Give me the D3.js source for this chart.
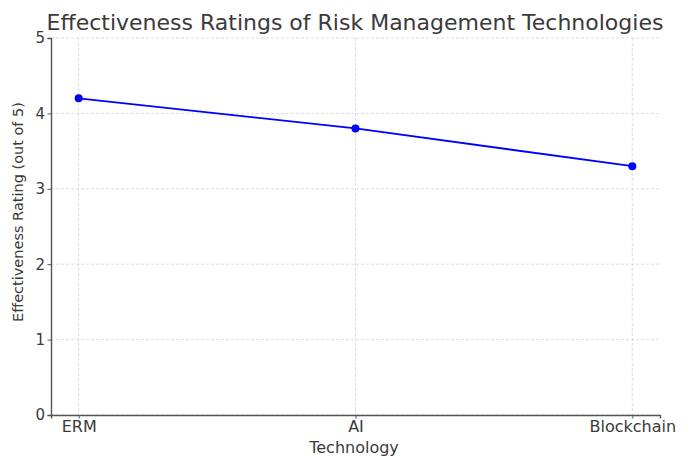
<!DOCTYPE html>
<html>
<head>
<meta charset="utf-8">
<script src="https://cdn.jsdelivr.net/npm/d3@7"></script>
<style>
  body { margin: 0; background: #fff; }
  svg { display: block; font-family: "DejaVu Sans", sans-serif; }
</style>
</head>
<body>
<div id="chart"></div>
<script>
// data
const technologies = ["ERM", "AI", "Blockchain"];
const ratings = [4.2, 3.8, 3.3];
const yTicks = [0, 1, 2, 3, 4, 5];

const width = 697, height = 457;
const margin = { top: 38, right: 37, bottom: 42, left: 51 };

const svg = d3.select("#chart").append("svg")
    .attr("width", width)
    .attr("height", height);

const plotW = width - margin.left - margin.right;
const plotH = height - margin.top - margin.bottom;

// matplotlib-like 5% padding on the category axis
const x = d3.scaleLinear()
    .domain([-0.1, technologies.length - 1 + 0.1])
    .range([margin.left, margin.left + plotW]);

const y = d3.scaleLinear()
    .domain([0, 5])
    .range([margin.top + plotH, margin.top]);

// grid
const grid = svg.append("g")
    .attr("stroke", "#d4d4d4")
    .attr("stroke-width", 0.8)
    .attr("stroke-dasharray", "3,2");
grid.selectAll("line.h")
    .data(yTicks)
    .enter().append("line")
    .attr("x1", margin.left).attr("x2", margin.left + plotW)
    .attr("y1", d => y(d)).attr("y2", d => y(d));
grid.selectAll("line.v")
    .data(technologies)
    .enter().append("line")
    .attr("x1", (d, i) => x(i)).attr("x2", (d, i) => x(i))
    .attr("y1", margin.top).attr("y2", margin.top + plotH);

// axes
const xAxis = d3.axisBottom(x)
    .tickValues(technologies.map((d, i) => i))
    .tickFormat(i => technologies[i])
    .tickSizeOuter(0)
    .tickSize(3.5)
    .tickPadding(2);
const yAxis = d3.axisLeft(y)
    .tickValues(yTicks)
    .tickFormat(d3.format("d"))
    .tickSizeOuter(0)
    .tickSize(3.5)
    .tickPadding(2.5);

const gx = svg.append("g")
    .attr("transform", `translate(0,${margin.top + plotH})`)
    .call(xAxis);
const gy = svg.append("g")
    .attr("transform", `translate(${margin.left},0)`)
    .call(yAxis);

[gx, gy].forEach(g => {
    g.select(".domain").attr("stroke", "#555").attr("stroke-width", 1.4);
    g.selectAll(".tick line").attr("stroke", "#555");
    g.selectAll(".tick text")
        .attr("fill", "#3a3a3a")
        .style("font-family", "DejaVu Sans");
});
gx.selectAll(".tick text").style("font-size", "16px");
gy.selectAll(".tick text").style("font-size", "15px");

// line
const line = d3.line()
    .x((d, i) => x(i))
    .y(d => y(d));

svg.append("path")
    .datum(ratings)
    .attr("fill", "none")
    .attr("stroke", "#0000ff")
    .attr("stroke-width", 1.8)
    .attr("d", line);

svg.append("g")
    .selectAll("circle")
    .data(ratings)
    .enter().append("circle")
    .attr("cx", (d, i) => x(i))
    .attr("cy", d => y(d))
    .attr("r", 4)
    .attr("fill", "#0000ff");

// title and labels
svg.append("text")
    .attr("x", 355)
    .attr("y", 30)
    .attr("text-anchor", "middle")
    .attr("fill", "#3a3a3a")
    .style("font-size", "22px")
    .text("Effectiveness Ratings of Risk Management Technologies");

svg.append("text")
    .attr("x", 354)
    .attr("y", 453)
    .attr("text-anchor", "middle")
    .attr("fill", "#3a3a3a")
    .style("font-size", "16px")
    .text("Technology");

svg.append("text")
    .attr("transform", "rotate(-90)")
    .attr("x", -212)
    .attr("y", 23)
    .attr("text-anchor", "middle")
    .attr("fill", "#3a3a3a")
    .style("font-size", "14.5px")
    .text("Effectiveness Rating (out of 5)");
</script>
</body>
</html>
